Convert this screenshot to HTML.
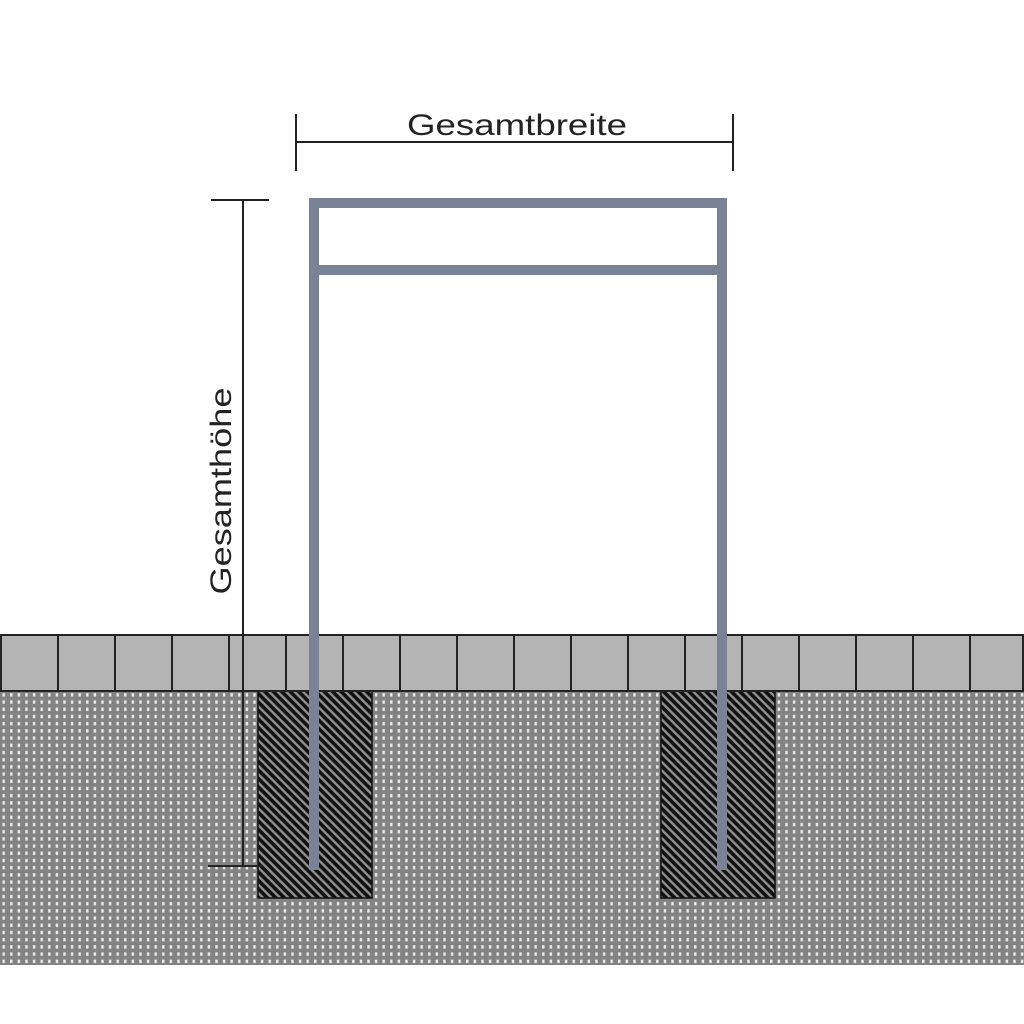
<!DOCTYPE html>
<html><head><meta charset="utf-8"><style>html,body{margin:0;padding:0;background:#fff;width:1024px;height:1024px;overflow:hidden}</style></head>
<body>
<svg width="1024" height="1024" viewBox="0 0 1024 1024" xmlns="http://www.w3.org/2000/svg">
<defs>
<pattern id="dots" x="0" y="0" width="7.6" height="7.2" patternUnits="userSpaceOnUse">
<rect width="7.6" height="7.2" fill="#838383"/>
<rect x="2.5" y="2" width="2.4" height="3.4" fill="#ececec"/>
</pattern>
<pattern id="hatch" width="6" height="6" patternUnits="userSpaceOnUse" patternTransform="rotate(-45)">
<rect width="6" height="6" fill="#111"/>
<rect x="0" y="0" width="2.4" height="6" fill="#909090"/>
</pattern>
</defs>
<rect x="0" y="691" width="1024" height="274" fill="url(#dots)"/>
<rect x="258" y="691" width="114" height="207" fill="url(#hatch)" stroke="#111" stroke-width="1.5"/>
<rect x="661" y="691" width="114" height="207" fill="url(#hatch)" stroke="#111" stroke-width="1.5"/>
<rect x="1" y="635" width="1022" height="56" fill="#b4b4b4" stroke="#222" stroke-width="2"/>
<g stroke="#222" stroke-width="2">
<line x1="58" y1="635" x2="58" y2="691"/><line x1="115" y1="635" x2="115" y2="691"/>
<line x1="172" y1="635" x2="172" y2="691"/><line x1="229" y1="635" x2="229" y2="691"/>
<line x1="286" y1="635" x2="286" y2="691"/><line x1="343" y1="635" x2="343" y2="691"/>
<line x1="400" y1="635" x2="400" y2="691"/><line x1="457" y1="635" x2="457" y2="691"/>
<line x1="514" y1="635" x2="514" y2="691"/><line x1="571" y1="635" x2="571" y2="691"/>
<line x1="628" y1="635" x2="628" y2="691"/><line x1="685" y1="635" x2="685" y2="691"/>
<line x1="742" y1="635" x2="742" y2="691"/><line x1="799" y1="635" x2="799" y2="691"/>
<line x1="856" y1="635" x2="856" y2="691"/><line x1="913" y1="635" x2="913" y2="691"/>
<line x1="970" y1="635" x2="970" y2="691"/>
</g>
<g stroke="#222" stroke-width="2" fill="none">
<line x1="243" y1="200" x2="243" y2="866"/>
<line x1="211" y1="200" x2="269" y2="200"/>
<line x1="208" y1="866" x2="262" y2="866"/>
<line x1="296" y1="142" x2="733" y2="142"/>
<line x1="296" y1="114" x2="296" y2="171"/>
<line x1="733" y1="114" x2="733" y2="171"/>
</g>
<g fill="#7a8296">
<rect x="309" y="198" width="10" height="672"/>
<rect x="717" y="198" width="10" height="672"/>
<rect x="309" y="198" width="418" height="10"/>
<rect x="309" y="265" width="418" height="10"/>
</g>
<text x="517" y="135" text-anchor="middle" font-family="Liberation Sans, sans-serif" font-size="30" fill="#222" textLength="220" lengthAdjust="spacingAndGlyphs">Gesamtbreite</text>
<text transform="translate(231,491) rotate(-90)" text-anchor="middle" font-family="Liberation Sans, sans-serif" font-size="30" fill="#222" textLength="207" lengthAdjust="spacingAndGlyphs">Gesamthöhe</text>
</svg>
</body></html>
